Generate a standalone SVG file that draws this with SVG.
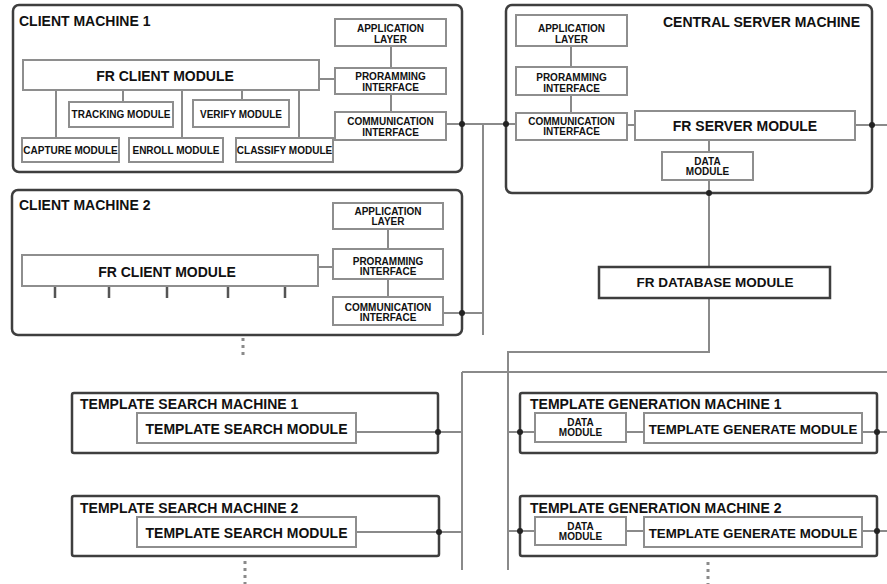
<svg xmlns="http://www.w3.org/2000/svg" width="887" height="584" viewBox="0 0 887 584">
<style>
text{font-family:"Liberation Sans",Arial,sans-serif;font-weight:bold;fill:#111}
.mach{fill:#fff;stroke:#3e3e3e;stroke-width:2.5}
.mod{fill:#fff;stroke:#8e8e8e;stroke-width:2}
.db{fill:#fff;stroke:#3e3e3e;stroke-width:2.5}
.s{font-size:10px;text-anchor:middle}
.t{font-size:14px}
.m{font-size:14px;text-anchor:middle}
.c{fill:none;stroke:#8a8a8a;stroke-width:2}
.tick{stroke:#555;stroke-width:2.5}
.dots{stroke:#8a8a8a;stroke-width:3;stroke-dasharray:3 4}
</style>
<defs>
<circle id="dot" r="3" fill="#222"/>
</defs>
<rect width="887" height="584" fill="#fff"/>

<g id="client1">
<rect class="mach" x="13" y="5" width="449" height="167" rx="6"/>
<text class="t" x="19" y="26">CLIENT MACHINE 1</text>
</g>
<g id="client2">
<rect class="mach" x="12" y="190" width="450" height="145" rx="6"/>
<text class="t" x="19" y="210">CLIENT MACHINE 2</text>
</g>
<g id="server">
<rect class="mach" x="506" y="5" width="366" height="188" rx="6"/>
<text class="t" x="860" y="27" text-anchor="end">CENTRAL SERVER MACHINE</text>
</g>
<g id="tsearch1">
<rect class="mach" x="72" y="393" width="366" height="60" rx="2"/>
<text class="t" x="80" y="409">TEMPLATE SEARCH MACHINE 1</text>
</g>
<g id="tsearch2">
<rect class="mach" x="72" y="496" width="367" height="60" rx="2"/>
<text class="t" x="80" y="513">TEMPLATE SEARCH MACHINE 2</text>
</g>
<g id="tgen1">
<rect class="mach" x="520" y="393" width="357" height="60" rx="2"/>
<text class="t" x="530" y="409">TEMPLATE GENERATION MACHINE 1</text>
</g>
<g id="tgen2">
<rect class="mach" x="520" y="496" width="357" height="60" rx="2"/>
<text class="t" x="530" y="513">TEMPLATE GENERATION MACHINE 2</text>
</g>

<g id="connectors">
<!-- client 1 internal -->
<path class="c" d="M391 46V68M391 94V112M319 79H335M56 90V138M123 90V102M182 90V138M242 90V100M299 90V138"/>
<!-- client 2 internal -->
<path class="c" d="M388 229V249M388 279V297M318 267H333"/>
<path class="tick" d="M55 286V298M109 286V298M167 286V298M228 286V298M285 286V298"/>
<!-- server internal -->
<path class="c" d="M571 46V67M571 95V113M627 125H635M709 140V152"/>
<!-- bus and links -->
<path class="c" d="M446 124H516M483 124V335M443 313H483M855 125H887M709 180V267M709 298V352H508V570M462 372H887M462 372V570"/>
<path class="c" d="M356 432H462M356 532H462M508 432H535M626 432H644M862 432H887M508 531H535M626 531H644M862 531H887"/>
<!-- continuation dots -->
<path class="dots" d="M243 338V358M245 561V584M708 562V584"/>
<!-- junction dots -->
<use href="#dot" x="462" y="124"/>
<use href="#dot" x="506" y="124"/>
<use href="#dot" x="462" y="313"/>
<use href="#dot" x="872" y="125"/>
<use href="#dot" x="709" y="193"/>
<use href="#dot" x="438" y="432"/>
<use href="#dot" x="439" y="532"/>
<use href="#dot" x="520" y="432"/>
<use href="#dot" x="877" y="432"/>
<use href="#dot" x="520" y="531"/>
<use href="#dot" x="877" y="531"/>
</g>

<g id="c1-app"><rect class="mod" x="335" y="19" width="111" height="27"/><text class="s" x="390.5" y="32">APPLICATION</text><text class="s" x="390.5" y="43">LAYER</text></g>
<g id="c1-prog"><rect class="mod" x="335" y="68" width="111" height="26"/><text class="s" x="390.5" y="80">PRORAMMING</text><text class="s" x="390.5" y="91">INTERFACE</text></g>
<g id="c1-comm"><rect class="mod" x="335" y="112" width="111" height="28"/><text class="s" x="390.5" y="125">COMMUNICATION</text><text class="s" x="390.5" y="135.5">INTERFACE</text></g>
<g id="c1-fr"><rect class="mod" x="23" y="60" width="296" height="30"/><text class="m" x="165" y="81">FR CLIENT MODULE</text></g>
<g id="c1-track"><rect class="mod" x="69" y="102" width="104" height="25"/><text class="s" x="121" y="118">TRACKING MODULE</text></g>
<g id="c1-verify"><rect class="mod" x="193" y="100" width="96" height="27"/><text class="s" x="241" y="118">VERIFY MODULE</text></g>
<g id="c1-capture"><rect class="mod" x="22" y="138" width="97" height="24"/><text class="s" x="70.5" y="154">CAPTURE MODULE</text></g>
<g id="c1-enroll"><rect class="mod" x="129" y="138" width="94" height="24"/><text class="s" x="176" y="154">ENROLL MODULE</text></g>
<g id="c1-classify"><rect class="mod" x="236" y="138" width="97" height="24"/><text class="s" x="284.5" y="154">CLASSIFY MODULE</text></g>

<g id="c2-app"><rect class="mod" x="333" y="203" width="110" height="26"/><text class="s" x="388" y="214.5">APPLICATION</text><text class="s" x="388" y="225">LAYER</text></g>
<g id="c2-prog"><rect class="mod" x="333" y="249" width="110" height="30"/><text class="s" x="388" y="264.5">PRORAMMING</text><text class="s" x="388" y="274.5">INTERFACE</text></g>
<g id="c2-comm"><rect class="mod" x="333" y="297" width="110" height="28"/><text class="s" x="388" y="310.5">COMMUNICATION</text><text class="s" x="388" y="320.5">INTERFACE</text></g>
<g id="c2-fr"><rect class="mod" x="22" y="255" width="296" height="31"/><text class="m" x="167" y="277">FR CLIENT MODULE</text></g>

<g id="s-app"><rect class="mod" x="516" y="15" width="111" height="31"/><text class="s" x="571.5" y="32">APPLICATION</text><text class="s" x="571.5" y="43">LAYER</text></g>
<g id="s-prog"><rect class="mod" x="516" y="67" width="111" height="28"/><text class="s" x="571.5" y="80.5">PRORAMMING</text><text class="s" x="571.5" y="91.5">INTERFACE</text></g>
<g id="s-comm"><rect class="mod" x="516" y="113" width="111" height="27"/><text class="s" x="571.5" y="124.5">COMMUNICATION</text><text class="s" x="571.5" y="134.5">INTERFACE</text></g>
<g id="s-fr"><rect class="mod" x="635" y="111" width="220" height="29"/><text class="m" x="745" y="131">FR SERVER MODULE</text></g>
<g id="s-data"><rect class="mod" x="662" y="152" width="91" height="28"/><text class="s" x="707.5" y="164.5">DATA</text><text class="s" x="707.5" y="174.5">MODULE</text></g>

<g id="db"><rect class="db" x="599" y="267" width="231" height="31"/><text class="m" x="715" y="287" style="font-size:13.5px">FR DATABASE MODULE</text></g>

<g id="ts1-mod"><rect class="mod" x="137" y="413" width="219" height="30"/><text class="m" x="246.5" y="434">TEMPLATE SEARCH MODULE</text></g>
<g id="ts2-mod"><rect class="mod" x="137" y="517" width="219" height="30"/><text class="m" x="246.5" y="538">TEMPLATE SEARCH MODULE</text></g>

<g id="tg1-data"><rect class="mod" x="535" y="413" width="91" height="29"/><text class="s" x="580.5" y="426">DATA</text><text class="s" x="580.5" y="436">MODULE</text></g>
<g id="tg1-gen"><rect class="mod" x="644" y="413" width="218" height="30"/><text class="m" x="753" y="434" style="font-size:13.3px">TEMPLATE GENERATE MODULE</text></g>
<g id="tg2-data"><rect class="mod" x="535" y="517" width="91" height="28"/><text class="s" x="580.5" y="530">DATA</text><text class="s" x="580.5" y="540">MODULE</text></g>
<g id="tg2-gen"><rect class="mod" x="644" y="517" width="218" height="30"/><text class="m" x="753" y="538" style="font-size:13.3px">TEMPLATE GENERATE MODULE</text></g>
</svg>
